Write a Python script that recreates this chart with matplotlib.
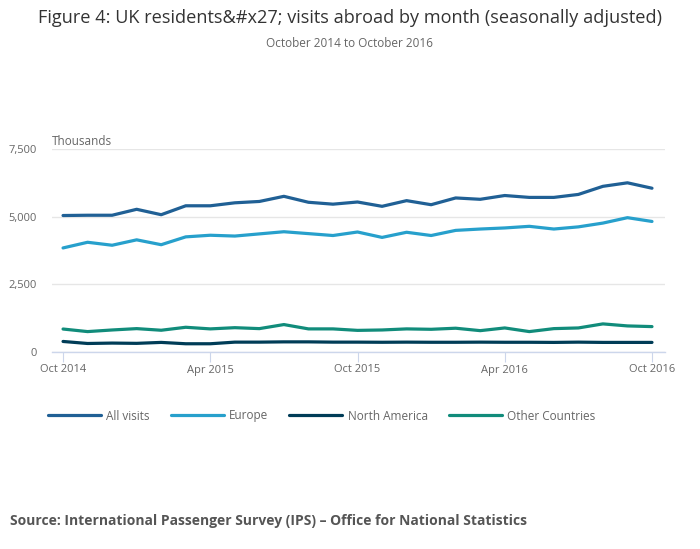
import matplotlib
matplotlib.use('Agg')
import matplotlib.pyplot as plt

# Data (thousands of visits), Oct 2014 .. Oct 2016
months = ['Oct 2014', 'Nov 2014', 'Dec 2014', 'Jan 2015', 'Feb 2015', 'Mar 2015',
          'Apr 2015', 'May 2015', 'Jun 2015', 'Jul 2015', 'Aug 2015', 'Sep 2015',
          'Oct 2015', 'Nov 2015', 'Dec 2015', 'Jan 2016', 'Feb 2016', 'Mar 2016',
          'Apr 2016', 'May 2016', 'Jun 2016', 'Jul 2016', 'Aug 2016', 'Sep 2016',
          'Oct 2016']
all_visits = [5050, 5060, 5060, 5280, 5080, 5410, 5410, 5520, 5570, 5760, 5540, 5470,
              5550, 5390, 5600, 5450, 5700, 5650, 5790, 5720, 5720, 5830, 6130, 6260, 6060]
europe = [3850, 4060, 3950, 4150, 3970, 4260, 4320, 4290, 4370, 4450, 4380, 4310,
          4440, 4240, 4430, 4310, 4500, 4550, 4590, 4650, 4550, 4630, 4770, 4970, 4830]
north_america = [390, 315, 330, 320, 355, 305, 305, 365, 365, 375, 375, 365,
                 365, 360, 365, 360, 360, 365, 360, 360, 355, 365, 355, 355, 355]
other = [850, 755, 815, 865, 805, 915, 855, 900, 865, 1015, 855, 855,
         800, 815, 855, 840, 880, 790, 890, 755, 865, 890, 1040, 965, 940]
tick_labels = ['Oct 2014', 'Apr 2015', 'Oct 2015', 'Apr 2016', 'Oct 2016']
y_ticks = [0, 2500, 5000, 7500]

plt.rcParams['font.family'] = ['Open Sans', 'DejaVu Sans']

fig = plt.figure(figsize=(7, 5.49), dpi=100)
ax = fig.add_axes([52 / 700, 1 - 352 / 549, 613 / 700, 202.7 / 549])

x = list(range(len(months)))
series = [
    (all_visits, 'All visits', '#206095'),
    (europe, 'Europe', '#27a0cc'),
    (north_america, 'North America', '#003c57'),
    (other, 'Other Countries', '#118c7b'),
]
for values, label, color in series:
    ax.plot(x, values, color=color, linewidth=2.3, label=label, solid_capstyle='round')

ax.set_xlim(-0.45, 24.53)
ax.set_ylim(0, 7500)
ax.set_yticks(y_ticks)
ax.set_yticklabels([f'{v:,}' for v in y_ticks])
ax.set_xticks([months.index(t) for t in tick_labels])
ax.set_xticklabels(tick_labels)

ax.grid(axis='y', color='#e6e6e6', linewidth=1)
ax.set_axisbelow(True)
for side in ['top', 'right', 'left']:
    ax.spines[side].set_visible(False)
ax.spines['bottom'].set_color('#ccd6eb')
ax.spines['bottom'].set_linewidth(1)
ax.tick_params(axis='y', length=0, labelsize=8, labelcolor='#666666', pad=11)
ax.tick_params(axis='x', length=7, color='#ccd6eb', labelsize=8, labelcolor='#666666', pad=2)

ax.text(0, 1.005, 'Thousands', transform=ax.transAxes, fontsize=8.5, color='#666666',
        ha='left', va='bottom')

fig.text(0.5, 1 - 18 / 549, 'Figure 4: UK residents&#x27; visits abroad by month (seasonally adjusted)',
         ha='center', va='center', fontsize=13.1, color='#333333')
fig.text(0.5, 1 - 44 / 549, 'October 2014 to October 2016', ha='center', va='center',
         fontsize=8.5, color='#666666')

leg = ax.legend(loc='center left', bbox_to_anchor=(37 / 700, 1 - 416 / 549),
                bbox_transform=fig.transFigure, ncol=4, frameon=False, fontsize=8.5,
                handlelength=4.5, handletextpad=0.45, columnspacing=1.78)
for t in leg.get_texts():
    t.set_color('#666666')

fig.text(10 / 700, 1 - 521 / 549, 'Source: International Passenger Survey (IPS) \u2013 Office for National Statistics',
         ha='left', va='center', fontsize=10, fontweight='bold', color='#555555')

fig.savefig('out.png', dpi=100)
